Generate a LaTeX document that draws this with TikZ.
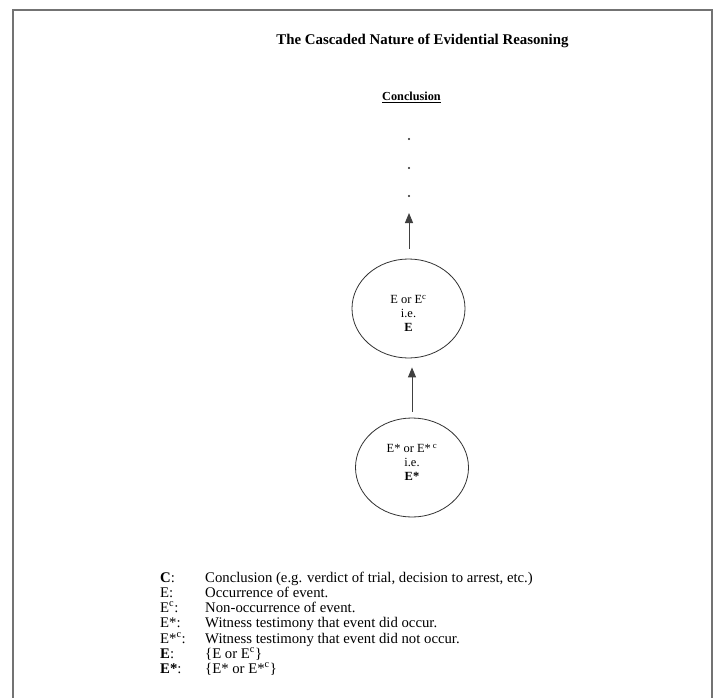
\documentclass[tikz,border=0pt]{standalone}
\usepackage{fontspec}
\setmainfont{Liberation Serif}
\usetikzlibrary{shapes.geometric,arrows.meta}
\tikzset{
  frame/.style={draw=black!55, line width=1.5bp},
  oval/.style={draw=black!80, line width=0.8bp, ellipse, minimum width=113bp, minimum height=99bp, inner sep=0pt},
  ovaltext/.style={inner sep=0pt, align=center, font=\fontsize{12.5}{14}\selectfont},
  up/.style={draw=black!75, line width=1bp, -{Triangle[width=8bp,length=10bp]}},
  dotnode/.style={circle, fill=black!85, inner sep=0pt, minimum size=2.2bp},
  lab/.style={anchor=base west, inner sep=0pt, font=\fontsize{14.8}{15}\selectfont},
}
\begin{document}
\begin{tikzpicture}[x=1bp,y=-1bp]
\useasboundingbox (0,0) rectangle (717,698);
\fill[white] (0,0) rectangle (717,698);
\draw[frame] (13,698) -- (13,10) -- (712,10) -- (712,698);
\node[anchor=base, inner sep=0pt, font=\fontsize{14.9}{16}\selectfont\bfseries] (title) at (422.5,45) {The Cascaded Nature of Evidential Reasoning};
\node[anchor=base, inner sep=0pt, font=\fontsize{12.3}{14}\selectfont\bfseries] (concl) at (411.5,101) {\underline{Conclusion}};
\node[dotnode] (d1) at (409,139) {};
\node[dotnode] (d2) at (409,168) {};
\node[dotnode] (d3) at (409,196) {};
\coordinate (tip) at (409,213);
\node[oval] (e1) at (408.5,308.5) {};
\node[oval] (e2) at (412,467.5) {};
\node[ovaltext] (e1t) at ([yshift=-5bp]e1.center) {E or E\textsuperscript{c}\\i.e.\\\textbf{E}};
\node[ovaltext] (e2t) at ([yshift=5bp]e2.center) {E* or E*\,\textsuperscript{c}\\i.e.\\\textbf{E*}};
\draw[up, shorten <=10bp] (e1.north -| tip) -- (tip);
\draw[up, shorten <=6bp, shorten >=9bp] (e2.north) -- (e2.north |- e1.south);
\node[lab] (l1) at (160,582) {\textbf{C}:};
\node[lab] (t1) at (205,582) {Conclusion (e.g. verdict of trial, decision to arrest, etc.)};
\node[lab] (l2) at (160,597) {E:};
\node[lab] (t2) at (205,597) {Occurrence of event.};
\node[lab] (l3) at (160,612) {E\textsuperscript{c}:};
\node[lab] (t3) at (205,612) {Non-occurrence of event.};
\node[lab] (l4) at (160,627.5) {E*:};
\node[lab] (t4) at (205,627.5) {Witness testimony that event did occur.};
\node[lab] (l5) at (160,643) {E*\textsuperscript{c}:};
\node[lab] (t5) at (205,643) {Witness testimony that event did not occur.};
\node[lab] (l6) at (160,658) {\textbf{E}:};
\node[lab] (t6) at (205,658) {\{E or E\textsuperscript{c}\}};
\node[lab] (l7) at (160,673) {\textbf{E*}:};
\node[lab] (t7) at (205,673) {\{E* or E*\textsuperscript{c}\}};
\end{tikzpicture}
\end{document}
